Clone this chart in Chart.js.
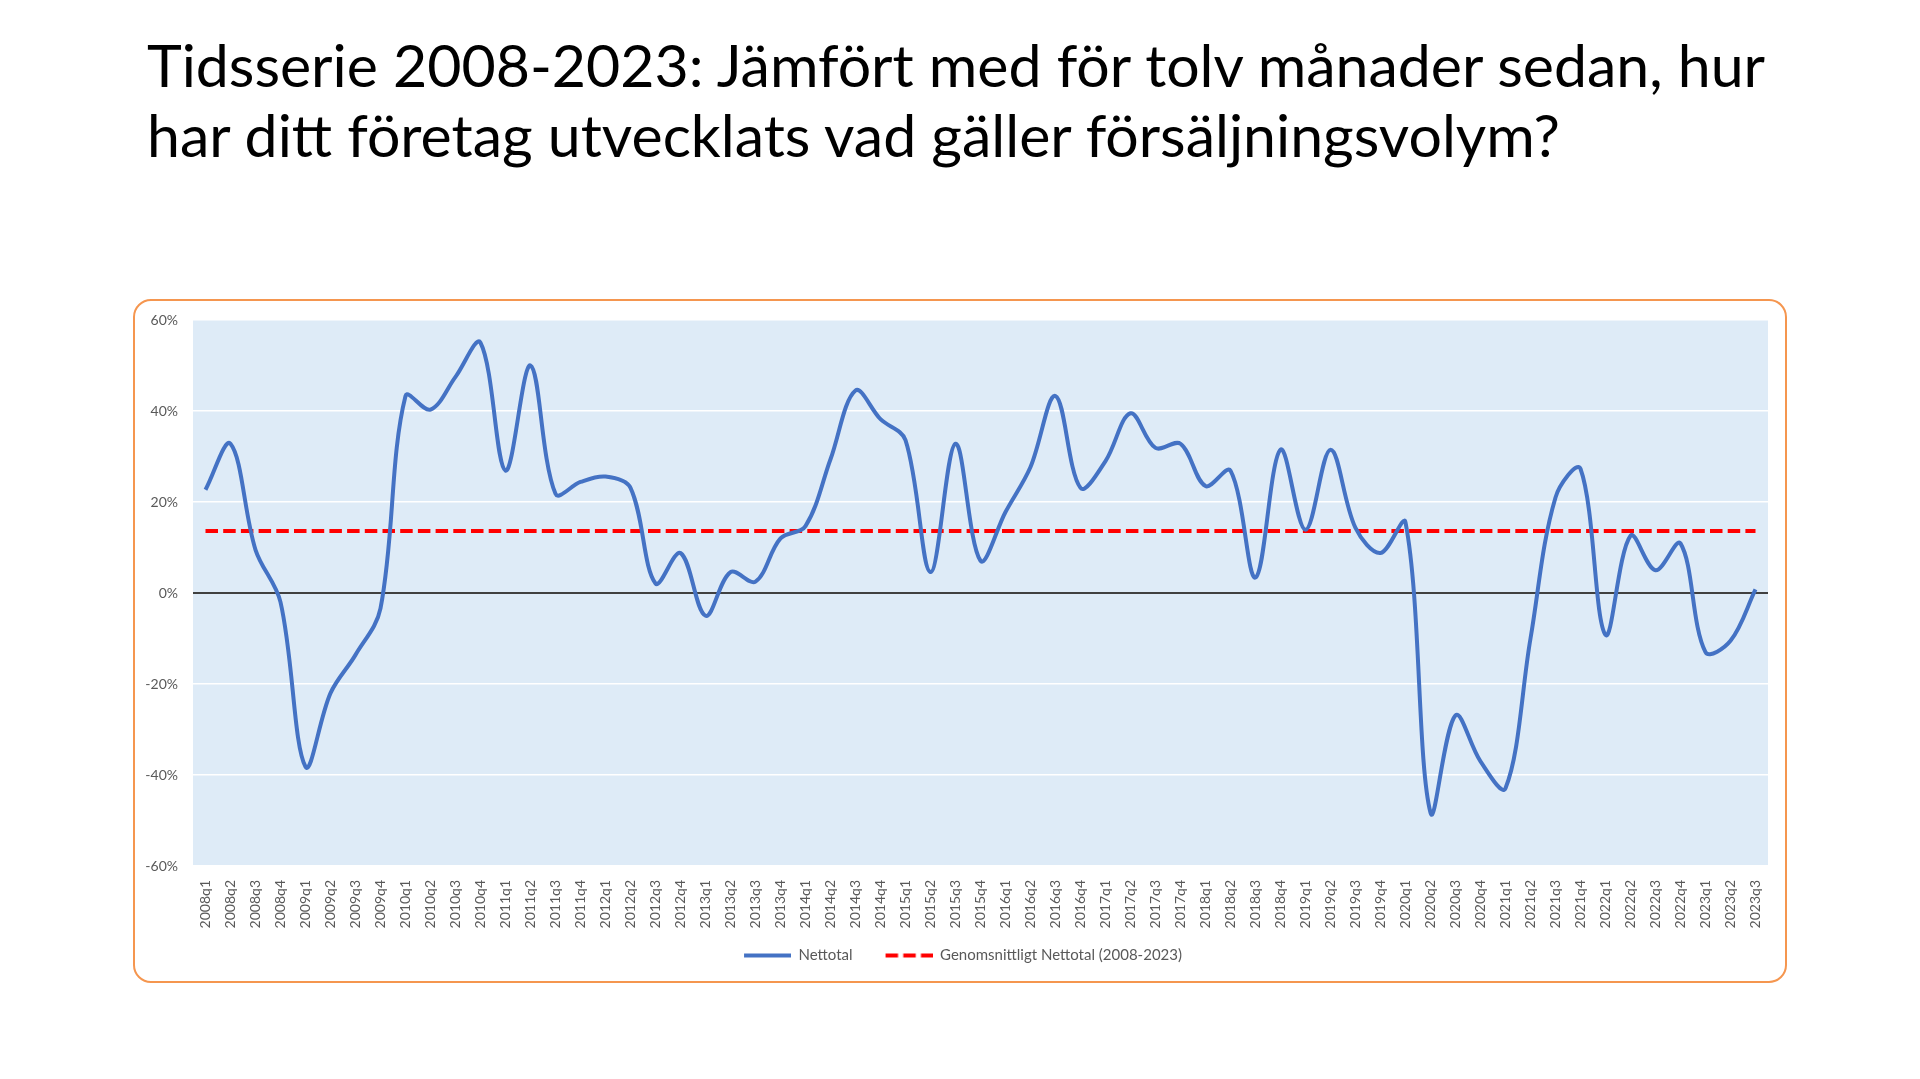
<!DOCTYPE html>
<html>
<head>
<meta charset="utf-8">
<script src="https://cdn.jsdelivr.net/npm/chart.js@4.4.1/dist/chart.umd.min.js"></script>
<style>
  html, body { margin: 0; padding: 0; background: #fff; }
  body { width: 1920px; height: 1079px; position: relative; overflow: hidden; }
  #title {
    position: absolute; left: 147px; top: 30px;
    font-family: Lato, "Open Sans", sans-serif; font-size: 59px; line-height: 70px;
    color: #000; white-space: nowrap;
  }
  #box {
    position: absolute; left: 133px; top: 299px; width: 1654px; height: 684px;
    box-sizing: border-box; border: 2px solid #F5964F; border-radius: 18px;
    background: #fff;
  }
  #wrap { position: absolute; left: 0; top: 0; width: 1650px; height: 680px; }
</style>
</head>
<body>
<div id="title">Tidsserie 2008-2023: Jämfört med för tolv månader sedan, hur<br>har ditt företag utvecklats vad gäller försäljningsvolym?</div>
<div id="box"><div id="wrap"><canvas id="chart"></canvas></div></div>
<script>
const quarters = [
  '2008q1','2008q2','2008q3','2008q4','2009q1','2009q2','2009q3','2009q4',
  '2010q1','2010q2','2010q3','2010q4','2011q1','2011q2','2011q3','2011q4',
  '2012q1','2012q2','2012q3','2012q4','2013q1','2013q2','2013q3','2013q4',
  '2014q1','2014q2','2014q3','2014q4','2015q1','2015q2','2015q3','2015q4',
  '2016q1','2016q2','2016q3','2016q4','2017q1','2017q2','2017q3','2017q4',
  '2018q1','2018q2','2018q3','2018q4','2019q1','2019q2','2019q3','2019q4',
  '2020q1','2020q2','2020q3','2020q4','2021q1','2021q2','2021q3','2021q4',
  '2022q1','2022q2','2022q3','2022q4','2023q1','2023q2','2023q3'
];

// Nettotal, procent
const nettotal = [
  22.7, 32.8, 9.5, -2,
  -38.2, -22, -13.6, -3.4,
  43.3, 40.3, 47.5, 55,
  26.9, 50, 21.8, 24.4,
  25.6, 23.1, 2.1, 8.8,
  -5, 4.6, 2.5, 12,
  14.7, 29.4, 44.5, 38.2,
  33.6, 4.6, 32.8, 7.1,
  17.8, 27.7, 43.3, 23.1,
  29, 39.5, 31.9, 32.8,
  23.5, 26.9, 3.4, 31.5,
  13.9, 31.5, 14.3, 8.8,
  15.5, -48.3, -26.9, -37,
  -42.9, -10, 21, 27.3,
  -9.2, 12.6, 5, 10.9,
  -13, -10.5, 0.8
];

// Genomsnittligt nettotal 2008-2023
const snitt = [
  13.6, 13.6, 13.6, 13.6, 13.6, 13.6, 13.6, 13.6, 13.6, 13.6, 13.6, 13.6, 13.6, 13.6, 13.6, 13.6,
  13.6, 13.6, 13.6, 13.6, 13.6, 13.6, 13.6, 13.6, 13.6, 13.6, 13.6, 13.6, 13.6, 13.6, 13.6, 13.6,
  13.6, 13.6, 13.6, 13.6, 13.6, 13.6, 13.6, 13.6, 13.6, 13.6, 13.6, 13.6, 13.6, 13.6, 13.6, 13.6,
  13.6, 13.6, 13.6, 13.6, 13.6, 13.6, 13.6, 13.6, 13.6, 13.6, 13.6, 13.6, 13.6, 13.6, 13.6
];

const yTicks = [-60, -40, -20, 0, 20, 40, 60];

const FONT = { family: 'Lato, "Open Sans", sans-serif', size: 14 };
const GREY = '#595959';
const BLUE = '#4472C4';
const RED = '#FF0000';
const DASH = [12.5, 5.2];

// legend swatch: blank gap on the left, then the line sample
function swatch(color, dash) {
  const c = document.createElement('canvas');
  c.width = 70; c.height = 6;
  const g = c.getContext('2d');
  g.strokeStyle = color;
  g.lineWidth = 4;
  g.setLineDash(dash);
  g.beginPath();
  g.moveTo(23, 3);
  g.lineTo(70, 3);
  g.stroke();
  return c;
}

// light blue plot area like the Excel original
const plotBg = {
  id: 'plotBg',
  beforeDraw(chart) {
    const { ctx, chartArea: a } = chart;
    ctx.save();
    ctx.fillStyle = '#DEEBF7';
    ctx.fillRect(a.left, a.top, a.right - a.left, a.bottom - a.top);
    ctx.restore();
  }
};

new Chart(document.getElementById('chart'), {
  type: 'line',
  data: {
    labels: quarters,
    datasets: [
      {
        label: 'Nettotal',
        data: nettotal,
        borderColor: BLUE,
        backgroundColor: BLUE,
        borderWidth: 4,
        tension: 0.35,
        pointRadius: 0,
        pointStyle: swatch(BLUE, []),
        order: 1
      },
      {
        label: 'Genomsnittligt Nettotal (2008-2023)',
        data: snitt,
        borderColor: RED,
        backgroundColor: RED,
        borderWidth: 4,
        borderDash: DASH,
        pointRadius: 0,
        pointStyle: swatch(RED, DASH),
        order: 2
      }
    ]
  },
  options: {
    responsive: true,
    maintainAspectRatio: false,
    animation: false,
    layout: { padding: { top: 19, right: 17, bottom: 8, left: 0 } },
    plugins: {
      tooltip: { enabled: false },
      legend: {
        position: 'bottom',
        labels: {
          usePointStyle: true,
          pointStyleWidth: 70,
          font: { family: FONT.family, size: 15 },
          color: GREY,
          padding: 10
        }
      }
    },
    scales: {
      x: {
        offset: true,
        grid: { display: false },
        border: { display: false },
        ticks: {
          autoSkip: false,
          minRotation: 90,
          maxRotation: 90,
          font: FONT,
          color: GREY,
          padding: 6
        },
        afterFit(s) { s.height = 72; }
      },
      y: {
        min: -60,
        max: 60,
        afterBuildTicks(s) { s.ticks = yTicks.map(v => ({ value: v })); },
        ticks: {
          callback: v => v + '%',
          font: FONT,
          color: GREY,
          padding: 15
        },
        grid: {
          drawTicks: false,
          color: c => c.tick && c.tick.value === 0 ? '#404040' : '#FFFFFF',
          lineWidth: c => c.tick && c.tick.value === 0 ? 2 : 1.5
        },
        border: { display: false },
        afterFit(s) {
          s.width = 58;
          s.paddingTop = 8;
          s.paddingBottom = 8;
        }
      }
    }
  },
  plugins: [plotBg]
});
</script>
</body>
</html>
